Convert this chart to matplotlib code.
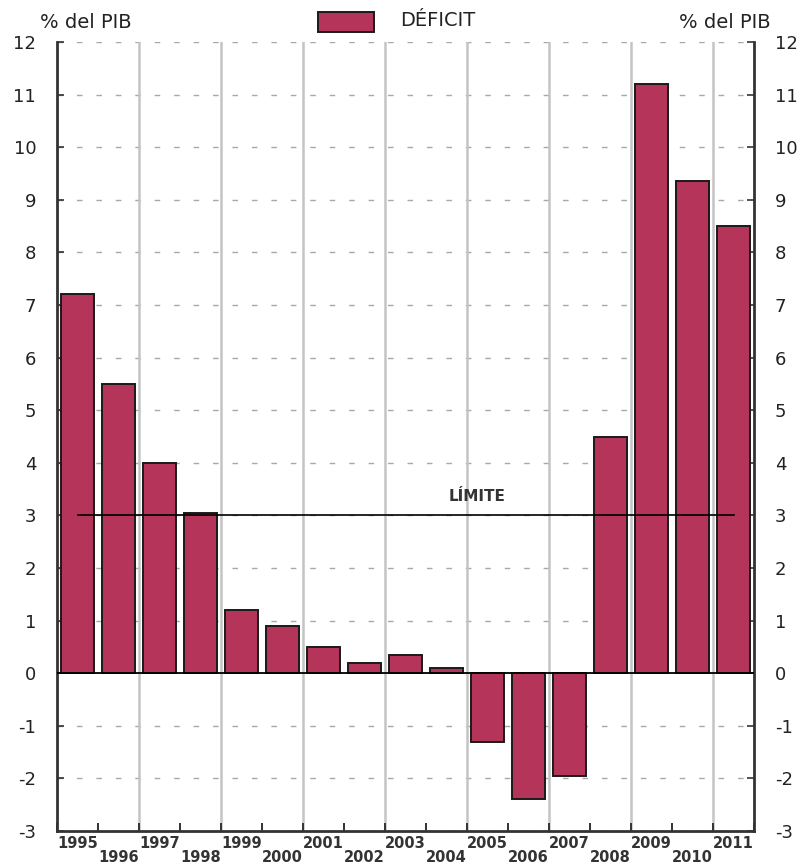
import matplotlib
matplotlib.use("Agg")
import matplotlib.pyplot as plt
from matplotlib.patches import Rectangle

years = [1995, 1996, 1997, 1998, 1999, 2000, 2001, 2002, 2003, 2004,
         2005, 2006, 2007, 2008, 2009, 2010, 2011]
deficit = [7.2, 5.5, 4.0, 3.05, 1.2, 0.9, 0.5, 0.2, 0.35, 0.1,
           -1.3, -2.4, -1.95, 4.5, 11.2, 9.35, 8.5]
limit = 3.0
yticks = list(range(-3, 13))

plt.rcParams['font.family'] = ['DejaVu Sans']
bar_color = '#B5345A'
txt_color = '#222222'

fig = plt.figure(figsize=(8.11, 8.64), dpi=100)
ax = fig.add_axes([57/811, 1-831/864, (754-57)/811, (831-42)/864])

n = len(years)
xs = list(range(n))
ax.set_xlim(-0.5, n-0.5)
ax.set_ylim(-3, 12)

# grids
for y in yticks:
    if y == 0:
        continue
    ax.axhline(y, color='#a8a8a8', lw=1.0, ls=(0, (4, 10)), zorder=0)
for i in range(1, n, 2):
    ax.axvline(i + 0.5, color='#c4c4c4', lw=1.8, zorder=0)

ax.bar(xs, deficit, width=0.8, color=bar_color, edgecolor='#1a1a1a', lw=1.4, zorder=2)
ax.axhline(0, color='black', lw=1.3, zorder=3)
ax.plot([xs[0], xs[-1]], [limit, limit], color='black', lw=1.2, zorder=4)
ax.text(9.75, limit + 0.22, 'LÍMITE', ha='center', va='bottom', fontsize=11,
        fontweight='bold', color='#333333', zorder=5)

# y axis
ax.set_yticks(yticks)
ax.set_yticklabels([str(v) for v in yticks])
ax.tick_params(axis='y', direction='in', length=5, width=1.2, labelsize=13,
               left=True, right=True, labelleft=True, labelright=True,
               pad=15, labelcolor=txt_color, color='#333333')

# x axis ticks at year boundaries
ax.set_xticks([i + 0.5 for i in range(-1, n)])
ax.set_xticklabels([])
ax.tick_params(axis='x', direction='in', length=6, width=1.4, bottom=True,
               color='#333333')
for i, yr in enumerate(years):
    yoff = -0.23 if i % 2 == 0 else -0.5
    ax.text(i, -3 + yoff, str(yr), ha='center', va='center', fontsize=10.5,
            fontweight='bold', color='#333333', clip_on=False)

for s in ax.spines.values():
    s.set_linewidth(2.0)
    s.set_color('#333333')
ax.spines['top'].set_visible(False)

# top labels
fig.text(40/811, 1-22/864, '% del PIB', ha='left', va='center', fontsize=14,
         color=txt_color)
fig.text(771/811, 1-22/864, '% del PIB', ha='right', va='center', fontsize=14,
         color=txt_color)
fig.patches.append(Rectangle((318/811, 1-32/864), 56/811, 20/864,
                             transform=fig.transFigure, facecolor=bar_color,
                             edgecolor='#1a1a1a', lw=1.4))
fig.text(400/811, 1-20/864, 'DÉFICIT', ha='left', va='center', fontsize=14,
         color=txt_color)

fig.savefig('out.png', dpi=100)
